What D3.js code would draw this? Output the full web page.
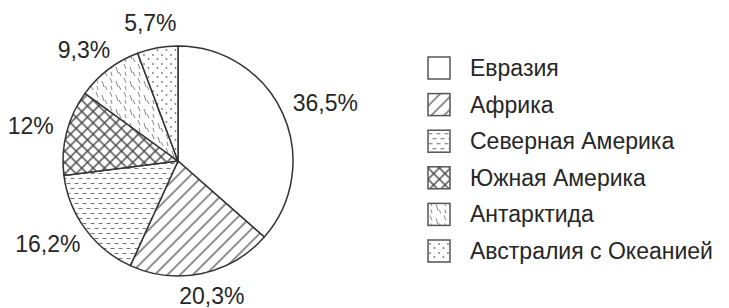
<!DOCTYPE html>
<html>
<head>
<meta charset="utf-8">
<script src="https://cdn.jsdelivr.net/npm/d3@7"></script>
<style>
  body { margin: 0; background: #fff; }
  svg { display: block; }
  text { font-family: "Liberation Sans", Arial, sans-serif; fill: #262626; }
</style>
</head>
<body>
<svg id="chart" width="729" height="308"></svg>
<script>
const categories = ["Евразия", "Африка", "Северная Америка", "Южная Америка", "Антарктида", "Австралия с Океанией"];
const shares = [36.5, 20.3, 16.2, 12, 9.3, 5.7];
const shareLabels = ["36,5%", "20,3%", "16,2%", "12%", "9,3%", "5,7%"];
const patternIds = ["p-none", "p-diag", "p-dash", "p-cross", "p-strokes", "p-dots"];

const width = 729, height = 308;
const cx = 178, cy = 161, radius = 115;
const ink = "#333";

const svg = d3.select("#chart");
const defs = svg.append("defs");

// hatch patterns, roughly like the printed textures
defs.append("pattern").attr("id", "p-none")
  .attr("patternUnits", "userSpaceOnUse").attr("width", 10).attr("height", 10)
  .append("rect").attr("width", 10).attr("height", 10).attr("fill", "#fff");

const diag = defs.append("pattern").attr("id", "p-diag")
  .attr("patternUnits", "userSpaceOnUse").attr("width", 9).attr("height", 9)
  .attr("patternTransform", "rotate(45)");
diag.append("rect").attr("width", 9).attr("height", 9).attr("fill", "#fff");
diag.append("line").attr("x1", 1).attr("y1", 0).attr("x2", 1).attr("y2", 9)
  .attr("stroke", "#444").attr("stroke-width", 1.2);

const dash = defs.append("pattern").attr("id", "p-dash")
  .attr("patternUnits", "userSpaceOnUse").attr("width", 8).attr("height", 10);
dash.append("rect").attr("width", 8).attr("height", 10).attr("fill", "#fff");
dash.append("line").attr("x1", 0.5).attr("y1", 2.5).attr("x2", 4.5).attr("y2", 2.5)
  .attr("stroke", "#777").attr("stroke-width", 1.1);
dash.append("line").attr("x1", 4.5).attr("y1", 7.5).attr("x2", 8.5).attr("y2", 7.5)
  .attr("stroke", "#777").attr("stroke-width", 1.1);
dash.append("line").attr("x1", -0.5).attr("y1", 7.5).attr("x2", 0.5).attr("y2", 7.5)
  .attr("stroke", "#777").attr("stroke-width", 1.1);

const cross = defs.append("pattern").attr("id", "p-cross")
  .attr("patternUnits", "userSpaceOnUse").attr("width", 8).attr("height", 8)
  .attr("patternTransform", "rotate(45)");
cross.append("rect").attr("width", 8).attr("height", 8).attr("fill", "#fff");
cross.append("line").attr("x1", 1).attr("y1", 0).attr("x2", 1).attr("y2", 8)
  .attr("stroke", "#444").attr("stroke-width", 1.4);
cross.append("line").attr("x1", 0).attr("y1", 1).attr("x2", 8).attr("y2", 1)
  .attr("stroke", "#444").attr("stroke-width", 1.4);

const strokes = defs.append("pattern").attr("id", "p-strokes")
  .attr("patternUnits", "userSpaceOnUse").attr("width", 14).attr("height", 14);
strokes.append("rect").attr("width", 14).attr("height", 14).attr("fill", "#fff");
[[2, 1, 4, 6], [8, 4, 10, 10], [11, 9, 13, 13], [3, 9, 4, 13]].forEach(s => {
  strokes.append("line").attr("x1", s[0]).attr("y1", s[1]).attr("x2", s[2]).attr("y2", s[3])
    .attr("stroke", "#888").attr("stroke-width", 1);
});

const dots = defs.append("pattern").attr("id", "p-dots")
  .attr("patternUnits", "userSpaceOnUse").attr("width", 9).attr("height", 9);
dots.append("rect").attr("width", 9).attr("height", 9).attr("fill", "#fff");
[[2, 2], [6.5, 6]].forEach(p => {
  dots.append("circle").attr("cx", p[0]).attr("cy", p[1]).attr("r", 0.9).attr("fill", "#777");
});

// pie
const pie = d3.pie().sort(null).value(d => d)(shares);
const arc = d3.arc().innerRadius(0).outerRadius(radius);
const labelRadius = 140;

const g = svg.append("g").attr("transform", `translate(${cx},${cy})`);

g.selectAll("path")
  .data(pie)
  .enter()
  .append("path")
  .attr("d", arc)
  .attr("fill", (d, i) => `url(#${patternIds[i]})`)
  .attr("stroke", ink)
  .attr("stroke-width", 1.5)
  .attr("stroke-linejoin", "round");

// labels sit outside the rim, pushed out a bit more for the wider ones
g.selectAll("text.pct")
  .data(pie)
  .enter()
  .append("text")
  .attr("class", "pct")
  .attr("text-anchor", "middle")
  .attr("font-size", 23)
  .text((d, i) => shareLabels[i])
  .each(function (d) {
    const a = (d.startAngle + d.endAngle) / 2;
    const half = this.getComputedTextLength() / 2;
    const x = Math.sin(a) * (labelRadius + half - 11);
    const y = Math.min(-Math.cos(a) * labelRadius + 8, height - cy - 4);
    d3.select(this).attr("x", x).attr("y", y);
  });

// legend
const ly = d3.scalePoint().domain(categories).range([68, 251]);
const box = 22;

const legend = svg.append("g").selectAll("g")
  .data(categories)
  .enter()
  .append("g")
  .attr("transform", d => `translate(428,${ly(d)})`);

legend.append("rect")
  .attr("x", 0)
  .attr("y", -box / 2)
  .attr("width", box)
  .attr("height", box)
  .attr("fill", (d, i) => `url(#${patternIds[i]})`)
  .attr("stroke", "#555")
  .attr("stroke-width", 1.5);

legend.append("text")
  .attr("x", 42)
  .attr("y", 8)
  .attr("font-size", 23)
  .text(d => d);
</script>
</body>
</html>
